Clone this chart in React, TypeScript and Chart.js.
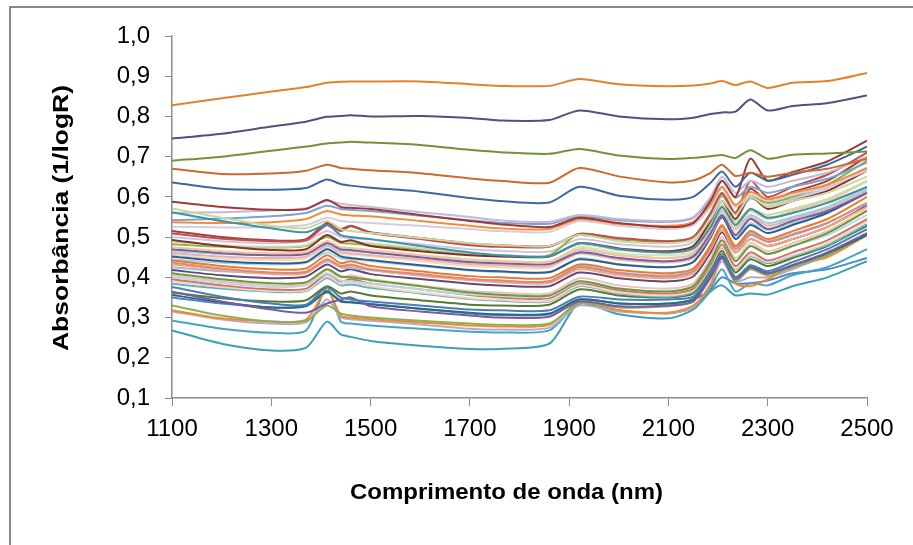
import React, { useEffect, useRef } from "react";
import { Chart, registerables } from "chart.js";

Chart.register(...registerables);

// Wavelength grid (nm) shared by every spectrum
const wavelengths = [1100, 1200, 1300, 1370, 1412, 1440, 1460, 1500, 1600, 1700, 1760, 1860, 1920, 2000, 2100, 2150, 2185, 2208, 2235, 2265, 2300, 2350, 2420, 2500];

const xTickValues = [1100, 1300, 1500, 1700, 1900, 2100, 2300, 2500];
const yTickValues = [0.1, 0.2, 0.3, 0.4, 0.5, 0.6, 0.7, 0.8, 0.9, 1.0];

const xTitle = "Comprimento de onda (nm)";
const yTitle = "Absorbância (1/logR)";

// Absorbance spectra (1/logR)
const s01 = [0.828, 0.845, 0.862, 0.873, 0.884, 0.886, 0.887, 0.887, 0.887, 0.880, 0.876, 0.876, 0.893, 0.880, 0.875, 0.877, 0.882, 0.888, 0.878, 0.887, 0.871, 0.884, 0.888, 0.908];
const s02 = [0.745, 0.757, 0.775, 0.787, 0.799, 0.801, 0.803, 0.800, 0.801, 0.796, 0.790, 0.791, 0.815, 0.800, 0.793, 0.797, 0.806, 0.810, 0.812, 0.842, 0.815, 0.826, 0.833, 0.852];
const s03 = [0.690, 0.700, 0.715, 0.725, 0.733, 0.735, 0.737, 0.735, 0.729, 0.717, 0.711, 0.707, 0.719, 0.703, 0.694, 0.697, 0.701, 0.704, 0.697, 0.716, 0.695, 0.705, 0.708, 0.713];
const s04 = [0.670, 0.657, 0.658, 0.665, 0.680, 0.672, 0.670, 0.666, 0.659, 0.646, 0.640, 0.635, 0.672, 0.651, 0.636, 0.641, 0.660, 0.680, 0.652, 0.660, 0.650, 0.660, 0.670, 0.695];
const s05 = [0.636, 0.620, 0.618, 0.622, 0.643, 0.632, 0.628, 0.623, 0.613, 0.597, 0.590, 0.586, 0.625, 0.603, 0.593, 0.600, 0.635, 0.663, 0.625, 0.660, 0.640, 0.655, 0.680, 0.725];
const s06 = [0.588, 0.575, 0.568, 0.570, 0.592, 0.575, 0.573, 0.570, 0.555, 0.540, 0.532, 0.525, 0.548, 0.535, 0.525, 0.535, 0.590, 0.640, 0.600, 0.695, 0.640, 0.662, 0.688, 0.740];
const s07 = [0.571, 0.548, 0.528, 0.522, 0.540, 0.520, 0.515, 0.510, 0.498, 0.485, 0.480, 0.478, 0.505, 0.490, 0.485, 0.495, 0.545, 0.590, 0.555, 0.600, 0.575, 0.590, 0.610, 0.650];
const s08 = [0.562, 0.540, 0.522, 0.512, 0.530, 0.505, 0.500, 0.495, 0.478, 0.462, 0.455, 0.452, 0.485, 0.470, 0.462, 0.472, 0.525, 0.575, 0.530, 0.570, 0.548, 0.560, 0.585, 0.625];
const s09 = [0.560, 0.562, 0.566, 0.572, 0.590, 0.583, 0.580, 0.575, 0.562, 0.550, 0.542, 0.538, 0.555, 0.545, 0.540, 0.550, 0.600, 0.650, 0.610, 0.640, 0.625, 0.640, 0.660, 0.700];
const s10 = [0.542, 0.546, 0.552, 0.560, 0.578, 0.570, 0.568, 0.565, 0.553, 0.542, 0.536, 0.533, 0.552, 0.542, 0.538, 0.548, 0.595, 0.640, 0.598, 0.625, 0.610, 0.625, 0.645, 0.685];
const s11 = [0.537, 0.535, 0.537, 0.545, 0.565, 0.556, 0.554, 0.552, 0.540, 0.528, 0.522, 0.520, 0.545, 0.533, 0.528, 0.538, 0.582, 0.625, 0.580, 0.612, 0.595, 0.610, 0.630, 0.672];
const s12 = [0.526, 0.524, 0.525, 0.530, 0.548, 0.540, 0.538, 0.535, 0.528, 0.520, 0.515, 0.513, 0.540, 0.528, 0.520, 0.530, 0.575, 0.620, 0.575, 0.605, 0.590, 0.605, 0.625, 0.665];
const s13 = [0.509, 0.496, 0.490, 0.492, 0.530, 0.515, 0.527, 0.510, 0.495, 0.480, 0.476, 0.476, 0.508, 0.498, 0.490, 0.500, 0.560, 0.610, 0.560, 0.640, 0.600, 0.625, 0.655, 0.710];
const s14 = [0.493, 0.478, 0.468, 0.470, 0.505, 0.488, 0.492, 0.478, 0.465, 0.455, 0.452, 0.452, 0.485, 0.472, 0.465, 0.478, 0.540, 0.590, 0.545, 0.600, 0.570, 0.590, 0.615, 0.665];
const s15 = [0.488, 0.480, 0.476, 0.480, 0.505, 0.490, 0.488, 0.485, 0.472, 0.460, 0.455, 0.453, 0.482, 0.468, 0.462, 0.472, 0.530, 0.580, 0.540, 0.570, 0.555, 0.570, 0.595, 0.640];
const s16 = [0.482, 0.476, 0.474, 0.478, 0.500, 0.485, 0.484, 0.480, 0.470, 0.458, 0.455, 0.455, 0.508, 0.495, 0.490, 0.500, 0.560, 0.605, 0.560, 0.600, 0.585, 0.600, 0.630, 0.690];
const s17 = [0.475, 0.465, 0.460, 0.463, 0.490, 0.475, 0.473, 0.468, 0.455, 0.443, 0.440, 0.438, 0.470, 0.455, 0.448, 0.460, 0.520, 0.570, 0.525, 0.565, 0.545, 0.565, 0.590, 0.640];
const s18 = [0.470, 0.460, 0.455, 0.458, 0.485, 0.470, 0.468, 0.462, 0.450, 0.438, 0.435, 0.433, 0.462, 0.448, 0.440, 0.452, 0.510, 0.555, 0.505, 0.545, 0.520, 0.540, 0.565, 0.610];
const s19 = [0.465, 0.458, 0.455, 0.458, 0.482, 0.467, 0.466, 0.462, 0.452, 0.442, 0.438, 0.436, 0.468, 0.455, 0.448, 0.458, 0.515, 0.565, 0.520, 0.555, 0.535, 0.550, 0.575, 0.620];
const s20 = [0.460, 0.452, 0.448, 0.452, 0.478, 0.462, 0.460, 0.455, 0.445, 0.433, 0.430, 0.428, 0.460, 0.445, 0.438, 0.448, 0.505, 0.555, 0.505, 0.550, 0.528, 0.545, 0.570, 0.615];
const s21 = [0.452, 0.440, 0.435, 0.438, 0.470, 0.452, 0.448, 0.443, 0.430, 0.418, 0.415, 0.413, 0.445, 0.432, 0.425, 0.438, 0.500, 0.550, 0.495, 0.530, 0.510, 0.530, 0.560, 0.610];
const s22 = [0.442, 0.428, 0.420, 0.422, 0.455, 0.435, 0.440, 0.428, 0.415, 0.403, 0.400, 0.398, 0.432, 0.418, 0.410, 0.422, 0.480, 0.530, 0.478, 0.515, 0.495, 0.515, 0.545, 0.600];
const s23 = [0.437, 0.422, 0.412, 0.414, 0.445, 0.428, 0.432, 0.420, 0.408, 0.396, 0.392, 0.390, 0.425, 0.410, 0.402, 0.415, 0.475, 0.525, 0.470, 0.505, 0.488, 0.505, 0.535, 0.585];
const s24 = [0.432, 0.418, 0.408, 0.410, 0.442, 0.425, 0.428, 0.418, 0.404, 0.393, 0.388, 0.386, 0.420, 0.405, 0.398, 0.410, 0.470, 0.518, 0.462, 0.495, 0.478, 0.495, 0.525, 0.575];
const s25 = [0.425, 0.415, 0.410, 0.414, 0.440, 0.425, 0.423, 0.418, 0.405, 0.395, 0.392, 0.390, 0.428, 0.412, 0.405, 0.418, 0.478, 0.528, 0.475, 0.510, 0.490, 0.508, 0.535, 0.585];
const s26 = [0.410, 0.395, 0.385, 0.388, 0.420, 0.402, 0.400, 0.393, 0.378, 0.362, 0.357, 0.355, 0.390, 0.372, 0.365, 0.378, 0.440, 0.492, 0.440, 0.478, 0.458, 0.478, 0.510, 0.565];
const s27 = [0.405, 0.390, 0.380, 0.383, 0.418, 0.400, 0.405, 0.395, 0.380, 0.366, 0.362, 0.360, 0.398, 0.380, 0.372, 0.385, 0.448, 0.500, 0.448, 0.485, 0.465, 0.485, 0.515, 0.568];
const s28 = [0.400, 0.386, 0.376, 0.380, 0.410, 0.392, 0.390, 0.384, 0.370, 0.358, 0.354, 0.352, 0.388, 0.372, 0.365, 0.378, 0.440, 0.492, 0.442, 0.478, 0.458, 0.478, 0.505, 0.555];
const s29 = [0.395, 0.380, 0.370, 0.372, 0.408, 0.390, 0.395, 0.385, 0.370, 0.356, 0.350, 0.348, 0.385, 0.368, 0.360, 0.372, 0.432, 0.482, 0.428, 0.462, 0.442, 0.462, 0.492, 0.545];
const s30 = [0.390, 0.376, 0.366, 0.368, 0.402, 0.384, 0.388, 0.378, 0.362, 0.348, 0.344, 0.342, 0.380, 0.362, 0.355, 0.368, 0.428, 0.476, 0.422, 0.455, 0.438, 0.455, 0.485, 0.540];
const s31 = [0.384, 0.372, 0.364, 0.366, 0.398, 0.380, 0.382, 0.374, 0.360, 0.346, 0.342, 0.340, 0.378, 0.360, 0.352, 0.365, 0.425, 0.474, 0.420, 0.452, 0.435, 0.452, 0.480, 0.532];
const s32 = [0.376, 0.352, 0.335, 0.332, 0.375, 0.350, 0.345, 0.340, 0.330, 0.320, 0.318, 0.318, 0.352, 0.345, 0.345, 0.352, 0.410, 0.458, 0.400, 0.430, 0.415, 0.438, 0.470, 0.520];
const s33 = [0.364, 0.340, 0.320, 0.312, 0.335, 0.345, 0.350, 0.328, 0.315, 0.305, 0.300, 0.302, 0.340, 0.328, 0.330, 0.340, 0.400, 0.448, 0.395, 0.425, 0.410, 0.430, 0.462, 0.510];
const s34 = [0.356, 0.338, 0.325, 0.330, 0.365, 0.340, 0.338, 0.333, 0.322, 0.312, 0.308, 0.310, 0.345, 0.335, 0.335, 0.345, 0.405, 0.452, 0.400, 0.425, 0.410, 0.430, 0.460, 0.505];
const s35 = [0.330, 0.305, 0.290, 0.292, 0.330, 0.310, 0.305, 0.300, 0.292, 0.285, 0.282, 0.285, 0.335, 0.325, 0.328, 0.340, 0.400, 0.448, 0.390, 0.420, 0.405, 0.425, 0.455, 0.505];
const s36 = [0.318, 0.298, 0.290, 0.295, 0.368, 0.305, 0.300, 0.296, 0.288, 0.280, 0.278, 0.282, 0.338, 0.318, 0.312, 0.330, 0.380, 0.460, 0.385, 0.378, 0.395, 0.430, 0.450, 0.505];
const s37 = [0.315, 0.295, 0.285, 0.288, 0.345, 0.300, 0.296, 0.292, 0.283, 0.272, 0.270, 0.275, 0.330, 0.315, 0.312, 0.325, 0.385, 0.440, 0.390, 0.400, 0.400, 0.420, 0.455, 0.510];
const s38 = [0.293, 0.272, 0.262, 0.268, 0.375, 0.290, 0.285, 0.280, 0.272, 0.265, 0.263, 0.268, 0.335, 0.318, 0.310, 0.325, 0.375, 0.420, 0.365, 0.385, 0.380, 0.405, 0.425, 0.470];
const s39 = [0.268, 0.235, 0.218, 0.225, 0.290, 0.258, 0.252, 0.242, 0.230, 0.222, 0.222, 0.235, 0.335, 0.308, 0.298, 0.320, 0.365, 0.380, 0.355, 0.360, 0.357, 0.378, 0.400, 0.440];
const s40 = [0.500, 0.490, 0.485, 0.490, 0.515, 0.500, 0.498, 0.494, 0.482, 0.470, 0.466, 0.464, 0.495, 0.482, 0.476, 0.488, 0.548, 0.600, 0.560, 0.595, 0.578, 0.595, 0.622, 0.668];
const s41 = [0.455, 0.447, 0.443, 0.447, 0.472, 0.458, 0.456, 0.452, 0.440, 0.428, 0.425, 0.424, 0.458, 0.443, 0.436, 0.448, 0.508, 0.558, 0.512, 0.548, 0.530, 0.548, 0.575, 0.625];
const s42 = [0.445, 0.436, 0.432, 0.436, 0.462, 0.447, 0.445, 0.440, 0.428, 0.417, 0.413, 0.412, 0.448, 0.433, 0.426, 0.438, 0.498, 0.550, 0.500, 0.535, 0.518, 0.535, 0.562, 0.612];
const s43 = [0.418, 0.405, 0.398, 0.402, 0.432, 0.415, 0.420, 0.408, 0.396, 0.384, 0.380, 0.378, 0.412, 0.398, 0.390, 0.402, 0.462, 0.512, 0.462, 0.495, 0.478, 0.495, 0.525, 0.578];
const s44 = [0.362, 0.348, 0.340, 0.343, 0.378, 0.360, 0.365, 0.355, 0.343, 0.332, 0.330, 0.332, 0.370, 0.355, 0.350, 0.360, 0.418, 0.466, 0.412, 0.445, 0.428, 0.448, 0.478, 0.528];
const s45 = [0.350, 0.335, 0.325, 0.328, 0.362, 0.342, 0.338, 0.334, 0.322, 0.310, 0.306, 0.308, 0.345, 0.335, 0.335, 0.345, 0.370, 0.400, 0.385, 0.385, 0.392, 0.410, 0.420, 0.448];
const s46 = [0.515, 0.500, 0.492, 0.495, 0.535, 0.520, 0.528, 0.512, 0.498, 0.484, 0.480, 0.478, 0.505, 0.495, 0.488, 0.498, 0.558, 0.605, 0.560, 0.620, 0.590, 0.612, 0.640, 0.700];
const s47 = [0.470, 0.462, 0.458, 0.462, 0.488, 0.472, 0.470, 0.466, 0.455, 0.445, 0.442, 0.440, 0.475, 0.460, 0.455, 0.465, 0.525, 0.578, 0.535, 0.565, 0.548, 0.565, 0.590, 0.638];

const spectra = [s01, s02, s03, s04, s05, s06, s07, s08, s09, s10, s11, s12, s13, s14, s15, s16, s17, s18, s19, s20, s21, s22, s23, s24, s25, s26, s27, s28, s29, s30, s31, s32, s33, s34, s35, s36, s37, s38, s39, s40, s41, s42, s43, s44, s45, s46, s47];

const seriesColors = [
  "#E3812F", "#5E4B7C", "#72923A", "#CB6A2C", "#3B68A0",
  "#9E3A38", "#C6D9A0", "#3A93A8", "#C5B8D6", "#7EA3D2",
  "#F38B38", "#D5CCE0", "#C0504D", "#8B2F2D", "#C9DCA6",
  "#8DB04A", "#F9C29A", "#7A5E9E", "#9CCFDF", "#E3B4B3",
  "#2F5D92", "#EC7A28", "#D48A88", "#F6A970", "#9AB9DE",
  "#6F9A3A", "#ECC0BE", "#B4DCE7", "#CD7371", "#FAD2B4",
  "#56B2CB", "#4A7DBA", "#7B5BA3", "#2B6B7D", "#8CB052",
  "#F28A2E", "#B7AACB", "#45A6BF", "#3BA0B7", "#CFC5DE",
  "#FBD6B8", "#A8D6E3", "#604A7B", "#5A7A2E", "#4F86C6",
  "#A33F3C", "#D4E3B8",
];

const FONT = "'Liberation Sans', Arial, sans-serif";

const framePlugin = {
  id: "frame",
  beforeDraw(chart: any) {
    const ctx = chart.ctx;
    ctx.save();
    ctx.fillStyle = "#ffffff";
    ctx.fillRect(0, 0, chart.width, chart.height);
    ctx.fillStyle = "#878787";
    ctx.fillRect(9, 6, chart.width - 9, 2);
    ctx.fillRect(9, 6, 2, chart.height - 6);
    ctx.restore();
  },
};

const titlesPlugin = {
  id: "axisTitles",
  afterDraw(chart: any) {
    const ctx = chart.ctx;
    const area = chart.chartArea;
    ctx.save();
    ctx.fillStyle = "#000000";
    ctx.font = `bold 22px ${FONT}`;
    ctx.textAlign = "center";
    ctx.textBaseline = "alphabetic";
    const wx = ctx.measureText(xTitle).width;
    ctx.save();
    ctx.translate(area.left + (area.right - area.left) / 2 - 13, area.bottom + 101);
    ctx.scale(313 / wx, 1);
    ctx.fillText(xTitle, 0, 0);
    ctx.restore();
    const wy = ctx.measureText(yTitle).width;
    ctx.save();
    ctx.translate(68, area.top + (area.bottom - area.top) / 2 + 1);
    ctx.rotate(-Math.PI / 2);
    ctx.scale(266 / wy, 1);
    ctx.fillText(yTitle, 0, 0);
    ctx.restore();
    ctx.restore();
  },
};

export default function App() {
  const ref = useRef<HTMLCanvasElement | null>(null);

  useEffect(() => {
    const canvas = ref.current;
    if (!canvas) return;
    const datasets = spectra.map((values, i) => ({
      label: `Amostra ${i + 1}`,
      data: values.map((v, j) => ({ x: wavelengths[j], y: v })),
      borderColor: seriesColors[i % seriesColors.length],
      backgroundColor: seriesColors[i % seriesColors.length],
      borderWidth: 2,
      pointRadius: 0,
      tension: 0.25,
      fill: false,
    }));
    const chart = new Chart(canvas, {
      type: "line",
      data: { datasets },
      options: {
        animation: false,
        responsive: false,
        devicePixelRatio: 1,
        events: [],
        layout: { padding: { left: 0, right: 46, top: 36, bottom: 0 } },
        plugins: {
          legend: { display: false },
          tooltip: { enabled: false },
          title: { display: false },
        },
        scales: {
          x: {
            type: "linear",
            min: 1100,
            max: 2500,
            afterFit: (s: any) => {
              s.height = 147;
            },
            afterBuildTicks: (s: any) => {
              s.ticks = xTickValues.map((v) => ({ value: v }));
            },
            ticks: {
              color: "#000000",
              font: { family: FONT, size: 24 },
              padding: 9,
              maxRotation: 0,
              autoSkip: false,
              callback: (v: any) => String(v),
            },
            grid: {
              display: true,
              drawOnChartArea: false,
              drawTicks: true,
              tickLength: 8,
              color: "#8c8c8c",
              lineWidth: 1,
            },
            border: { display: true, color: "#8c8c8c", width: 1.5 },
            title: { display: false },
          },
          y: {
            type: "linear",
            min: 0.1,
            max: 1.0,
            afterFit: (s: any) => {
              s.width = 172;
            },
            afterBuildTicks: (s: any) => {
              s.ticks = yTickValues.map((v) => ({ value: v }));
            },
            ticks: {
              color: "#000000",
              font: { family: FONT, size: 24 },
              padding: 15,
              autoSkip: false,
              callback: (v: any) => Number(v).toFixed(1).replace(".", ","),
            },
            grid: {
              display: true,
              drawOnChartArea: false,
              drawTicks: true,
              tickLength: 7,
              color: "#8c8c8c",
              lineWidth: 1,
            },
            border: { display: true, color: "#8c8c8c", width: 1.5 },
            title: { display: false },
          },
        },
      },
      plugins: [framePlugin, titlesPlugin],
    });
    return () => chart.destroy();
  }, []);

  return (
    <div style={{ position: "fixed", left: 0, top: 0, width: 913, height: 545, background: "#fff" }}>
      <canvas ref={ref} width={913} height={545} style={{ width: 913, height: 545, display: "block" }} />
    </div>
  );
}
